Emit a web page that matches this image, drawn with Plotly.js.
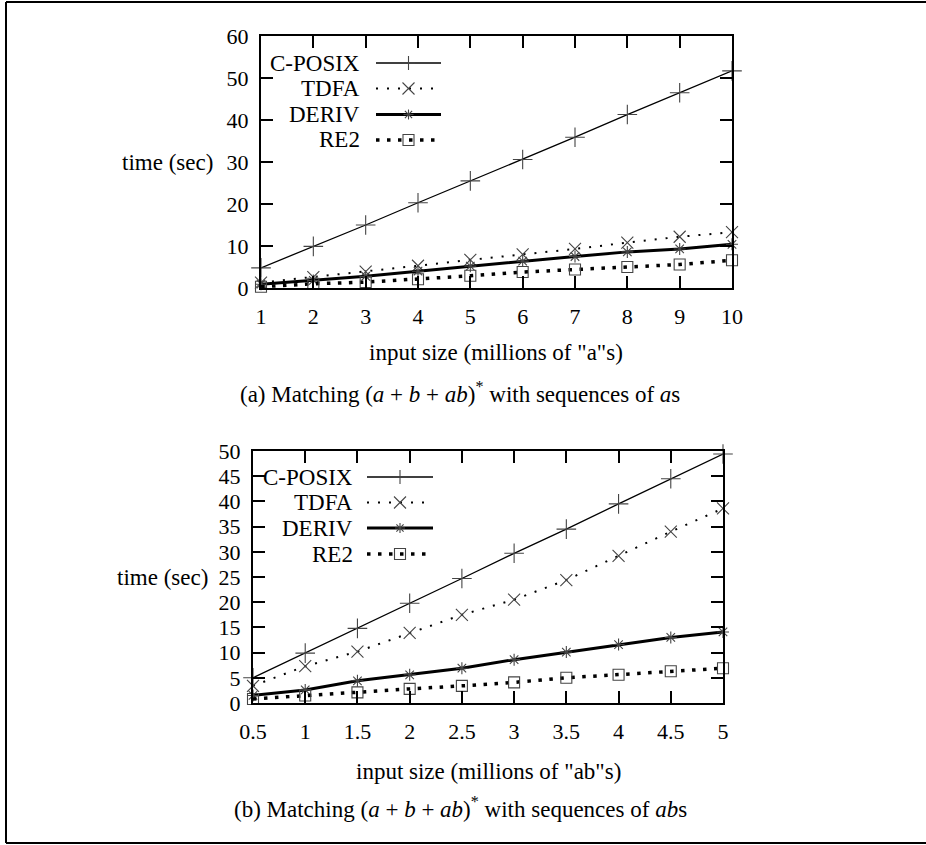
<!DOCTYPE html>
<html>
<head>
<meta charset="utf-8">
<script src="https://cdn.plot.ly/plotly-3.0.1.min.js"></script>
<style>html,body{margin:0;padding:0;background:#fff;}#chart{width:926px;height:845px;}</style>
</head>
<body>
<div id="chart"></div>
<script>
// ---- data ----
var seriesNames = ["C-POSIX", "TDFA", "DERIV", "RE2"];

var xA = [1, 2, 3, 4, 5, 6, 7, 8, 9, 10];
var aCPosix = [4.8, 9.9, 15.0, 20.3, 25.5, 30.6, 35.9, 41.3, 46.5, 51.7];
var aTdfa   = [1.3, 2.6, 3.9, 5.3, 6.7, 8.0, 9.3, 10.8, 12.2, 13.3];
var aDeriv  = [0.9, 1.8, 2.8, 4.0, 5.2, 6.4, 7.5, 8.6, 9.3, 10.4];
var aRe2    = [0.3, 1.0, 1.4, 2.1, 2.9, 3.8, 4.4, 5.0, 5.6, 6.6];

var xB = [0.5, 1, 1.5, 2, 2.5, 3, 3.5, 4, 4.5, 5];
var bCPosix = [5.0, 9.9, 14.8, 19.8, 24.7, 29.7, 34.5, 39.5, 44.5, 49.4];
var bTdfa   = [3.4, 7.3, 10.2, 13.9, 17.5, 20.5, 24.4, 29.2, 34.0, 38.6];
var bDeriv  = [1.5, 2.6, 4.4, 5.6, 6.9, 8.6, 10.1, 11.6, 13.0, 14.1];
var bRe2    = [0.8, 1.5, 2.1, 2.8, 3.4, 4.1, 5.0, 5.6, 6.3, 6.9];

var xTitleA = 'input size (millions of "a"s)';
var xTitleB = 'input size (millions of "ab"s)';
var yTitle = 'time (sec)';
var captionA = '(a) Matching (<i>a</i> + <i>b</i> + <i>ab</i>)<sup>*</sup> with sequences of <i>a</i>s';
var captionB = '(b) Matching (<i>a</i> + <i>b</i> + <i>ab</i>)<sup>*</sup> with sequences of <i>ab</i>s';

// ---- styles ----
var W = 926, H = 845;
var FONT = "Liberation Serif, serif";
var styles = [
  {line: {color: '#000', width: 1.3, dash: 'solid'}, symbol: 'cross-thin-open', size: 14},
  {line: {color: '#000', width: 2, dash: '2px,9px'}, symbol: 'x-thin-open', size: 12},
  {line: {color: '#000', width: 3, dash: 'solid'}, symbol: 'asterisk-open', size: 10},
  {line: {color: '#000', width: 3.5, dash: '3.5px,7.5px'}, symbol: 'square-open', size: 11}
];
function px(x) { return x / W; }
function py(y) { return 1 - y / H; }

var dataA = [aCPosix, aTdfa, aDeriv, aRe2];
var dataB = [bCPosix, bTdfa, bDeriv, bRe2];
var traces = [];
seriesNames.forEach(function (n, i) {
  var st = styles[i];
  var mk = {symbol: st.symbol, size: st.size, color: '#444', line: {color: '#444', width: 1.1}};
  traces.push({x: xA, y: dataA[i], name: n, type: 'scatter', mode: 'lines+markers',
    line: st.line, marker: mk, cliponaxis: false, showlegend: false, xaxis: 'x', yaxis: 'y'});
  traces.push({x: xB, y: dataB[i], name: n, type: 'scatter', mode: 'lines+markers',
    line: st.line, marker: mk, cliponaxis: false, showlegend: false, xaxis: 'x2', yaxis: 'y2'});
});

var tickFont = {family: FONT, size: 22, color: '#000'};
function axisBase(extra) {
  var a = {showline: true, linecolor: '#000', linewidth: 2, mirror: 'ticks',
    ticks: 'inside', ticklen: 12, tickwidth: 2, tickcolor: '#000',
    showgrid: false, zeroline: false, tickfont: tickFont, fixedrange: true};
  for (var k in extra) a[k] = extra[k];
  return a;
}

// plot areas (pixels)
var pa = {l: 261, r: 732, t: 36, b: 288};
var pb = {l: 253, r: 723, t: 451, b: 703};

var shapes = [
  // outer frame (left, top, bottom)
  {type: 'line', xref: 'paper', yref: 'paper', x0: px(6), x1: px(6), y0: py(2), y1: py(843), line: {color: '#000', width: 2}},
  {type: 'line', xref: 'paper', yref: 'paper', x0: px(6), x1: 1, y0: py(2), y1: py(2), line: {color: '#000', width: 2}},
  {type: 'line', xref: 'paper', yref: 'paper', x0: px(6), x1: 1, y0: py(843), y1: py(843), line: {color: '#000', width: 2}}
];
var annotations = [];

function addLegend(textRight, lineX0, lineX1, ys) {
  var cx = (lineX0 + lineX1) / 2;
  seriesNames.forEach(function (n, i) {
    var y = ys[i], st = styles[i];
    annotations.push({xref: 'paper', yref: 'paper', x: px(textRight), y: py(y), xanchor: 'right', yanchor: 'middle',
      text: n, showarrow: false, font: {family: FONT, size: 23, color: '#000'}});
    shapes.push({type: 'line', xref: 'paper', yref: 'paper', x0: px(lineX0), x1: px(lineX1), y0: py(y), y1: py(y),
      line: {color: '#000', width: st.line.width, dash: st.line.dash}});
    var mc = {color: '#444', width: 1.1};
    var h;
    if (i === 0 || i === 2) {
      h = (i === 0) ? 7 : 5;
      shapes.push({type: 'line', xref: 'paper', yref: 'paper', x0: px(cx - h), x1: px(cx + h), y0: py(y), y1: py(y), line: mc});
      shapes.push({type: 'line', xref: 'paper', yref: 'paper', x0: px(cx), x1: px(cx), y0: py(y - h), y1: py(y + h), line: mc});
    }
    if (i === 1 || i === 2) {
      h = (i === 1) ? 6 : 3.6;
      shapes.push({type: 'line', xref: 'paper', yref: 'paper', x0: px(cx - h), x1: px(cx + h), y0: py(y - h), y1: py(y + h), line: mc});
      shapes.push({type: 'line', xref: 'paper', yref: 'paper', x0: px(cx - h), x1: px(cx + h), y0: py(y + h), y1: py(y - h), line: mc});
    }
    if (i === 3) {
      h = 5.5;
      shapes.push({type: 'rect', xref: 'paper', yref: 'paper', x0: px(cx - h), x1: px(cx + h), y0: py(y - h), y1: py(y + h), line: mc, fillcolor: 'rgba(255,255,255,0)'});
    }
  });
}
addLegend(362, 376, 441, [63, 88.5, 114.5, 140]);
addLegend(355, 367, 433, [477, 502.5, 528, 554]);

var txtFont = {family: FONT, size: 23, color: '#000'};
annotations.push({xref: 'paper', yref: 'paper', x: px(215), y: py(162), xanchor: 'right', yanchor: 'middle', text: yTitle, showarrow: false, font: txtFont});
annotations.push({xref: 'paper', yref: 'paper', x: px(210), y: py(577), xanchor: 'right', yanchor: 'middle', text: yTitle, showarrow: false, font: txtFont});
annotations.push({xref: 'paper', yref: 'paper', x: px((pa.l + pa.r) / 2), y: py(352), xanchor: 'center', yanchor: 'middle', text: xTitleA, showarrow: false, font: txtFont});
annotations.push({xref: 'paper', yref: 'paper', x: px((pb.l + pb.r) / 2), y: py(771), xanchor: 'center', yanchor: 'middle', text: xTitleB, showarrow: false, font: txtFont});
annotations.push({xref: 'paper', yref: 'paper', x: px(460), y: py(392), xanchor: 'center', yanchor: 'middle', text: captionA, showarrow: false, font: txtFont});
annotations.push({xref: 'paper', yref: 'paper', x: px(460), y: py(807), xanchor: 'center', yanchor: 'middle', text: captionB, showarrow: false, font: txtFont});

var layout = {
  width: W, height: H,
  margin: {l: 0, r: 0, t: 0, b: 0, pad: 0},
  paper_bgcolor: '#fff', plot_bgcolor: '#fff',
  showlegend: false,
  font: {family: FONT, size: 22, color: '#000'},
  xaxis: axisBase({domain: [px(pa.l), px(pa.r)], range: [1, 10], tick0: 1, dtick: 1, anchor: 'y', ticklabelstandoff: 8}),
  yaxis: axisBase({domain: [py(pa.b), py(pa.t)], range: [0, 60], tick0: 0, dtick: 10, anchor: 'x', ticklabelstandoff: 6}),
  xaxis2: axisBase({domain: [px(pb.l), px(pb.r)], range: [0.5, 5], tick0: 0.5, dtick: 0.5, anchor: 'y2', ticklabelstandoff: 8}),
  yaxis2: axisBase({domain: [py(pb.b), py(pb.t)], range: [0, 50], tick0: 0, dtick: 5, anchor: 'x2', ticklabelstandoff: 6}),
  shapes: shapes,
  annotations: annotations
};

Plotly.newPlot('chart', traces, layout, {staticPlot: true, displayModeBar: false});
</script>
</body>
</html>
